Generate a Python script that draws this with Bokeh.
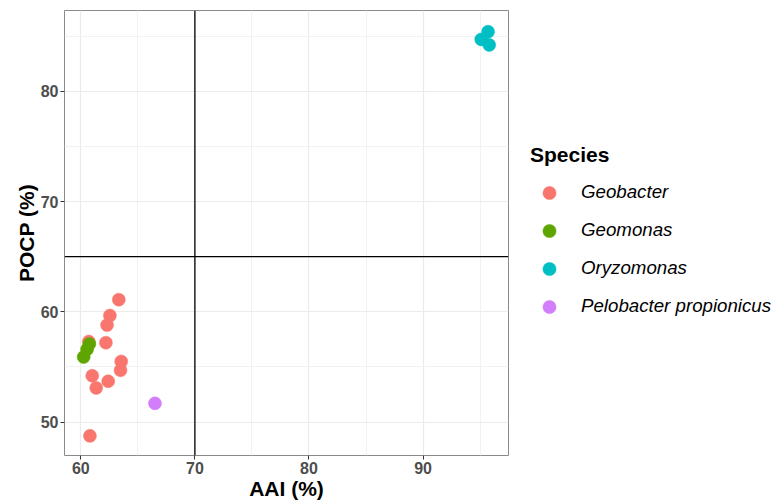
from bokeh.plotting import figure
from bokeh.models import Range1d, Span, Legend, LegendItem, FixedTicker
from bokeh.embed import file_html
from bokeh.resources import INLINE

species = ["Geobacter", "Geomonas", "Oryzomonas", "Pelobacter propionicus"]
colors = ["#F8766D", "#5FA500", "#00BFC4", "#D27DF9"]

geobacter_aai = [63.33, 62.55, 62.30, 62.20, 60.70, 63.54, 63.48, 61.00, 62.40, 61.35, 60.80]
geobacter_pocp = [61.10, 59.66, 58.80, 57.20, 57.30, 55.50, 54.70, 54.20, 53.70, 53.10, 48.75]
geomonas_aai = [60.75, 60.55, 60.25]
geomonas_pocp = [57.08, 56.60, 55.90]
oryzomonas_aai = [95.70, 95.10, 95.80]
oryzomonas_pocp = [85.40, 84.70, 84.20]
pelobacter_aai = [66.50]
pelobacter_pocp = [51.70]

x_ticks = [60, 70, 80, 90]
y_ticks = [50, 60, 70, 80]
x_minor = [65, 75, 85, 95]
y_minor = [55, 65, 75, 85]
aai_cut = 70
pocp_cut = 65

FONT = "Liberation Sans"

p = figure(frame_width=444, frame_height=445, output_backend="svg", toolbar_location=None,
           x_range=Range1d(58.57, 97.49), y_range=Range1d(46.97, 87.32),
           min_border_left=64, min_border_right=265, min_border_top=10,
           min_border_bottom=49)

p.background_fill_color = "white"
p.border_fill_color = "white"
p.outline_line_color = "#8A8A8A"
p.outline_line_width = 1

for ax, ticks, minor in ((p.xaxis[0], x_ticks, x_minor), (p.yaxis[0], y_ticks, y_minor)):
    ax.ticker = FixedTicker(ticks=ticks, minor_ticks=minor)
    ax.axis_line_color = None
    ax.major_tick_in = 0
    ax.major_tick_out = 4
    ax.major_tick_line_color = "#333333"
    ax.minor_tick_line_color = None
    ax.major_label_text_font = FONT
    ax.major_label_text_font_style = "bold"
    ax.major_label_text_font_size = "16px"
    ax.major_label_text_color = "#4D4D4D"
    ax.major_label_standoff = 2
    ax.axis_label_text_font = FONT
    ax.axis_label_text_font_style = "bold"
    ax.axis_label_text_font_size = "21px"
    ax.axis_label_text_color = "black"
    ax.axis_label_standoff = 0

p.xaxis.axis_label = "AAI (%)"
p.yaxis.axis_label = "POCP (%)"

for g in (p.xgrid[0], p.ygrid[0]):
    g.grid_line_color = "#EBEBEB"
    g.grid_line_width = 1.2
    g.minor_grid_line_color = "#F2F2F2"
    g.minor_grid_line_width = 1

p.add_layout(Span(location=aai_cut, dimension="height", line_color="black", line_width=1.3))
p.add_layout(Span(location=pocp_cut, dimension="width", line_color="black", line_width=1.3))

data = [(geobacter_aai, geobacter_pocp), (geomonas_aai, geomonas_pocp),
        (oryzomonas_aai, oryzomonas_pocp), (pelobacter_aai, pelobacter_pocp)]
items = []
for name, col, (xs, ys) in zip(species, colors, data):
    r = p.scatter(xs, ys, size=13, fill_color=col, line_color=col, line_width=0.5)
    items.append(LegendItem(label=name, renderers=[r]))

legend = Legend(items=items, title="Species", location="left",
                title_text_font=FONT, title_text_font_style="bold",
                title_text_font_size="21px", title_text_color="black",
                title_standoff=9,
                label_text_font=FONT, label_text_font_style="italic",
                label_text_font_size="18.7px", label_text_color="black",
                glyph_width=38, glyph_height=33, label_standoff=13,
                spacing=5, padding=0, margin=22,
                border_line_color=None, background_fill_alpha=0)
p.add_layout(legend, "right")

open("out.html", "w").write(file_html(p, INLINE))
